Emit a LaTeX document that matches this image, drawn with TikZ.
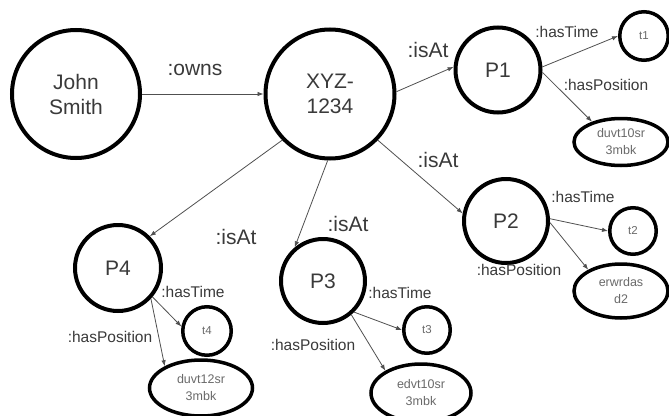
\documentclass[tikz,border=0pt]{standalone}
\usepackage{fontspec}
\setmainfont{Liberation Sans}
\usetikzlibrary{shapes.geometric,arrows.meta}
\definecolor{txt}{HTML}{3A3A3A}
\definecolor{smalltxt}{HTML}{6A6A6A}
\definecolor{edge}{HTML}{505050}
\begin{document}
\begin{tikzpicture}[x=1pt,y=-1pt,
  big/.style={circle,draw=black,line width=4pt,inner sep=0pt,text=txt,align=center,
    font=\fontsize{21}{25}\selectfont},
  small/.style={circle,draw=black,line width=3.5pt,inner sep=0pt,text=smalltxt,
    font=\fontsize{11.5}{14}\selectfont},
  posbox/.style={ellipse,draw=black,line width=3.5pt,inner sep=0pt,text=smalltxt,align=center,
    font=\fontsize{12.5}{17}\selectfont},
  rel/.style={draw=edge,line width=0.8pt,-{Latex[length=6pt,width=4.5pt]}},
  lbl/.style={text=txt,inner sep=0pt,font=\fontsize{21}{25}\selectfont},
  slbl/.style={text=txt,inner sep=0pt,font=\fontsize{15.5}{18}\selectfont}]
\useasboundingbox (0,0) rectangle (669,415);
\fill[white] (0,0) rectangle (669,415);

% resources
\node[big,minimum size=128pt] (john) at (76,94) {John\\Smith};
\node[big,minimum size=129pt] (car) at (330,94) {XYZ-\\1234};
\node[big,minimum size=85pt] (p1) at (498,70) {P1};
\node[big,minimum size=84pt] (p2) at (506,221) {P2};
\node[big,minimum size=84pt] (p3) at (323,281) {P3};
\node[big,minimum size=86pt] (p4) at (118,268) {P4};

% time stamps
\node[small,minimum size=48.5pt] (t1) at (644,36) {t1};
\node[small,minimum size=46.5pt] (t2) at (633,231) {t2};
\node[small,minimum size=46.5pt] (t3) at (427,330) {t3};
\node[small,minimum size=48.5pt] (t4) at (207,331) {t4};

% positions
\node[posbox,minimum width=94pt,minimum height=47pt] (g1) at (621,142) {duvt10sr\\3mbk};
\node[posbox,minimum width=94pt,minimum height=54pt] (g2) at (621,291) {erwrdas\\d2};
\node[posbox,minimum width=103pt,minimum height=56pt] (g4) at (201,388) {duvt12sr\\3mbk};
\node[posbox,minimum width=100pt,minimum height=58pt] (g3) at (421,393) {edvt10sr\\3mbk};

% relations
\draw[rel] (john) -- (car);
\draw[rel] (car.2) -- (p1.176);
\draw[rel] (car.-44) -- (p2.170);
\draw[rel] (car.-92) -- (p3.130);
\draw[rel] (car.224) -- (p4.45);

\draw[rel] (p1.4) -- (t1.180);
\draw[rel] (p1.-3) -- (g1.145);
\draw[rel] (p2.3) -- (t2.180);
\draw[rel] (p2.-2) -- (g2.147);
\draw[rel] (p3.-45) -- (t3.180);
\draw[rel] (p3.-50) -- (g3.148);
\draw[rel] (p4.-40) -- (t4.170);
\draw[rel] (p4.-43) -- (g4.149);

% labels
\node[lbl] (lowns) at (195,70) {:owns};
\node[lbl] (lat1) at (428,50) {:isAt};
\node[lbl] (lat2) at (438,160) {:isAt};
\node[lbl] (lat3) at (348,224) {:isAt};
\node[lbl] (lat4) at (236,237) {:isAt};

\node[slbl] (ht1) at (567,32) {:hasTime};
\node[slbl] (hp1) at (606,85) {:hasPosition};
\node[slbl] (ht2) at (583,197) {:hasTime};
\node[slbl] (hp2) at (519,270) {:hasPosition};
\node[slbl] (ht3) at (400,293) {:hasTime};
\node[slbl] (hp3) at (313,345) {:hasPosition};
\node[slbl] (ht4) at (193,292) {:hasTime};
\node[slbl] (hp4) at (110,337) {:hasPosition};
\end{tikzpicture}
\end{document}
